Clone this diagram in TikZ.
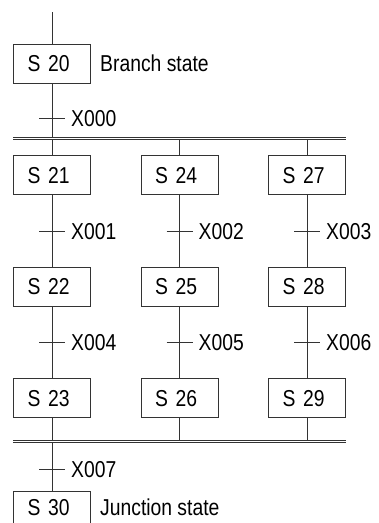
\documentclass[tikz,border=0pt]{standalone}
\usepackage{fontspec}
\setmainfont{Liberation Sans}[FakeStretch=0.84]
\begin{document}
\begin{tikzpicture}[x=1pt,y=-1pt,
  ln/.style={draw=black!80, line width=0.9pt},
  stbox/.style={ln, rectangle, minimum height=39pt, text width=49pt, inner xsep=14pt, inner ysep=0pt, align=left, text height=16.5pt, text depth=0pt, font=\fontsize{23}{27}\selectfont},
  lbl/.style={anchor=west, inner sep=0pt, text height=16.5pt, text depth=0pt, font=\fontsize{23}{27}\selectfont}]
\useasboundingbox (0,0) rectangle (379,523);
\clip (0,0) rectangle (379,523);
% states
\node[stbox] (S20) at (52,63.5) {S 20};
\node[lbl] (bs) at (100,63.5) {Branch state};
\node[stbox] (S21) at (52,175) {S 21};
\node[stbox] (S24) at (179.5,175) {S 24};
\node[stbox] (S27) at (307,175) {S 27};
\node[stbox] (S22) at (52,286.5) {S 22};
\node[stbox] (S25) at (179.5,286.5) {S 25};
\node[stbox] (S28) at (307,286.5) {S 28};
\node[stbox] (S23) at (52,398) {S 23};
\node[stbox] (S26) at (179.5,398) {S 26};
\node[stbox] (S29) at (307,398) {S 29};
\node[stbox] (S30) at (52,510.5) {\raisebox{3pt}{S 30}};
\node[lbl] (js) at (100,507.5) {Junction state};
% bars
\coordinate (top) at (52,12);
\coordinate (aL) at (13,137);
\coordinate (aR) at (346,137);
\coordinate (bL) at (13,139.5);
\coordinate (bR) at (346,139.5);
\coordinate (cL) at (13,440);
\coordinate (cR) at (346,440);
\coordinate (dL) at (13,442.5);
\coordinate (dR) at (346,442.5);
\draw[ln] (aL) -- (aR);
\draw[ln] (bL) -- (bR);
\draw[ln] (cL) -- (cR);
\draw[ln] (dL) -- (dR);
% vertical links
\draw[ln] (top) -- (S20.north);
\draw[ln] (S20.south) -- (S20.south |- aL);
\foreach \n in {S21,S24,S27}{\draw[ln] (\n.north) -- (\n.north |- bL);}
\draw[ln] (S21) -- (S22);
\draw[ln] (S24) -- (S25);
\draw[ln] (S27) -- (S28);
\draw[ln] (S22) -- (S23);
\draw[ln] (S25) -- (S26);
\draw[ln] (S28) -- (S29);
\foreach \n in {S23,S26,S29}{\draw[ln] (\n.south) -- (\n.south |- cL);}
\draw[ln] (S30.north |- dL) -- (S30.north);
% transitions
\foreach \x/\y/\t in {52/118.5/X000, 52/231/X001, 179.5/231/X002, 307/231/X003,
                      52/342/X004, 179.5/342/X005, 307/342/X006, 52/469/X007}{
  \coordinate (tr\t) at (\x,\y);
  \draw[ln] ([xshift=-13pt]tr\t) -- ([xshift=13pt]tr\t);
  \node[lbl] (l\t) at ([xshift=19pt]tr\t) {\t};
}
\end{tikzpicture}
\end{document}
